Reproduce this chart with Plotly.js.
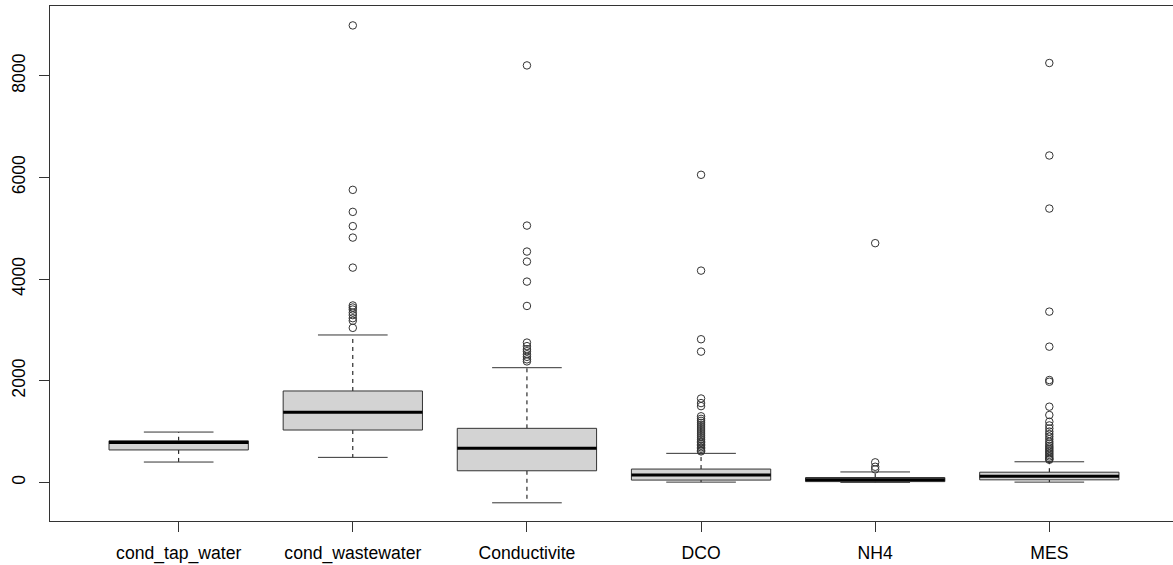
<!DOCTYPE html>
<html>
<head>
<meta charset="utf-8">
<script src="https://cdn.plot.ly/plotly-3.0.1.min.js"></script>
<style>
  html, body { margin: 0; padding: 0; background: #fff; overflow: hidden; }
  #chart { width: 1180px; height: 565px; }
</style>
</head>
<body>
<div id="chart"></div>
<script>
// Water quality parameters: five-number summaries plus outlying observations
const categories = ["cond_tap_water", "cond_wastewater", "Conductivite", "DCO", "NH4", "MES"];

const lowerWhisker = [400, 492, -402, 5, 0, 5];
const firstQuartile = [638, 1030, 228, 45, 15, 50];
const medians = [785, 1378, 669, 144, 50, 120];
const thirdQuartile = [818, 1798, 1063, 262, 95, 200];
const upperWhisker = [990, 2900, 2256, 571, 205, 405];

const outliersTap = [];
const outliersWastewater = [8990, 5755, 5322, 5041, 4816, 4225, 3480, 3440, 3400, 3340, 3290, 3230, 3180, 3040];
const outliersConductivite = [8203, 5052, 4541, 4344, 3950, 3471, 2750, 2680, 2620, 2580, 2520, 2470, 2420, 2380];
const outliersDCO = [6051, 4166, 2816, 2572, 1650, 1560, 1500, 1300, 1250, 1210, 1170, 1130, 1090, 1050,
                     1010, 970, 930, 890, 850, 810, 780, 750, 720, 690, 660, 630, 610];
const outliersNH4 = [4706, 394, 307, 256];
const outliersMES = [8250, 6431, 5387, 3359, 2670, 2014, 1980, 1489, 1325, 1193, 1120, 1060, 1000, 950, 900,
                     850, 800, 760, 720, 690, 660, 630, 600, 570, 540, 510, 480, 460, 445];

const outliers = [outliersTap, outliersWastewater, outliersConductivite, outliersDCO, outliersNH4, outliersMES];

const yTicks = [0, 2000, 4000, 6000, 8000];

// Box geometry in category units (R-style boxplot: boxwex 0.8, staple 0.5)
const BOX_HALF = 0.4;
const CAP_HALF = 0.2;
const LINE = "#333333";

const traces = [];
categories.forEach((name, i) => {
  const x = i + 1;
  const lo = lowerWhisker[i], q1 = firstQuartile[i], md = medians[i], q3 = thirdQuartile[i], hi = upperWhisker[i];

  // dashed whiskers
  traces.push({
    type: "scatter", mode: "lines", hoverinfo: "skip",
    x: [x, x, null, x, x], y: [q3, hi, null, q1, lo],
    line: { color: "#000", width: 1, dash: "4px,4px" }
  });
  // whisker caps
  traces.push({
    type: "scatter", mode: "lines", hoverinfo: "skip",
    x: [x - CAP_HALF, x + CAP_HALF, null, x - CAP_HALF, x + CAP_HALF], y: [hi, hi, null, lo, lo],
    line: { color: LINE, width: 1 }
  });
  // box
  traces.push({
    type: "scatter", mode: "lines", hoverinfo: "skip",
    x: [x - BOX_HALF, x + BOX_HALF, x + BOX_HALF, x - BOX_HALF, x - BOX_HALF],
    y: [q1, q1, q3, q3, q1],
    fill: "toself", fillcolor: "#d3d3d3",
    line: { color: LINE, width: 1 }
  });
  // median
  traces.push({
    type: "scatter", mode: "lines", hoverinfo: "skip",
    x: [x - BOX_HALF, x + BOX_HALF], y: [md, md],
    line: { color: "#000", width: 3 }
  });
  // outliers
  if (outliers[i].length) {
    traces.push({
      type: "scatter", mode: "markers", hoverinfo: "skip",
      x: outliers[i].map(() => x), y: outliers[i],
      marker: { symbol: "circle-open", size: 7.5, color: LINE, line: { width: 1, color: LINE } }
    });
  }
});

const font = { family: "Liberation Sans, Arial, sans-serif", size: 17.6, color: "#000" };

const layout = {
  width: 1180, height: 565,
  margin: { l: 50, r: 2, t: 6, b: 44 },
  showlegend: false,
  paper_bgcolor: "#fff", plot_bgcolor: "#fff",
  xaxis: {
    range: [0.261, 6.739],
    tickmode: "array", tickvals: categories.map((_, i) => i + 1), ticktext: categories,
    ticks: "outside", ticklen: 10, tickcolor: LINE, tickwidth: 1,
    ticklabelstandoff: 6,
    showline: true, linecolor: LINE, linewidth: 1, mirror: true,
    showgrid: false, zeroline: false, tickfont: font
  },
  yaxis: {
    range: [-760, 9372],
    tickmode: "array", tickvals: yTicks, ticktext: yTicks.map(String),
    tickangle: -90,
    ticks: "outside", ticklen: 10, tickcolor: LINE, tickwidth: 1,
    ticklabelstandoff: 7,
    showline: true, linecolor: LINE, linewidth: 1, mirror: true,
    showgrid: false, zeroline: false, tickfont: font
  }
};

Plotly.newPlot("chart", traces, layout, { displayModeBar: false, staticPlot: true });
</script>
</body>
</html>
